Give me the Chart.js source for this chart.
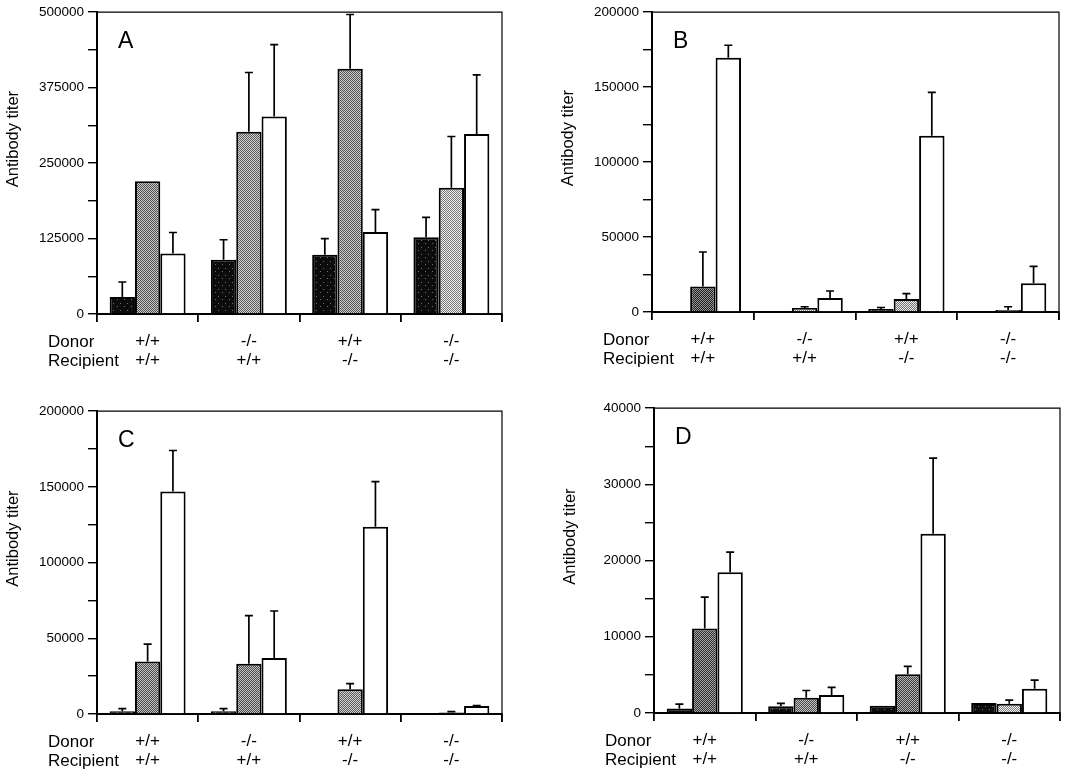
<!DOCTYPE html>
<html>
<head>
<meta charset="utf-8">
<script src="https://cdn.jsdelivr.net/npm/chart.js@4.4.1/dist/chart.umd.min.js"></script>
<style>
  body { margin: 0; background: #fff; }
  #wrap { position: relative; width: 1065px; height: 772px; }
  canvas { position: absolute; }
</style>
</head>
<body>
<div id="wrap">
  <canvas id="panelA" width="532" height="384" style="left:0px;top:0px"></canvas>
  <canvas id="panelB" width="510" height="384" style="left:555px;top:0px"></canvas>
  <canvas id="panelC" width="532" height="373" style="left:0px;top:399px"></canvas>
  <canvas id="panelD" width="508" height="376" style="left:557px;top:396px"></canvas>
</div>
<script>
// groups on the x axis
const donor = ['+/+', '-/-', '+/+', '-/-'];
const recipient = ['+/+', '+/+', '-/-', '-/-'];

// panel A
const aDark = [28000, 90000, 98000, 127000];
const aDarkErr = [25000, 33000, 27000, 33000];
const aGray = [220000, 302000, 406000, 209000];
const aGrayErr = [0, 98000, 90000, 85000];
const aWhite = [100000, 327000, 136000, 298000];
const aWhiteErr = [35000, 119000, 37000, 98000];
const aTicks = [0, 125000, 250000, 375000, 500000];

// panel B
const bDark = [0, 0, 2000, 0];
const bDarkErr = [0, 0, 1000, 0];
const bGray = [17000, 2600, 8700, 1300];
const bGrayErr = [23000, 900, 3600, 2200];
const bWhite = [169600, 9400, 117500, 19200];
const bWhiteErr = [8300, 4600, 29000, 11200];
const bTicks = [0, 50000, 100000, 150000, 200000];

// panel C
const cDark = [1800, 1800, 400, 300];
const cDarkErr = [1800, 1800, 0, 0];
const cGray = [34700, 33200, 16400, 1000];
const cGrayErr = [11400, 31700, 3700, 600];
const cWhite = [146900, 36900, 123700, 5200];
const cWhiteErr = [27100, 31100, 29700, 300];
const cTicks = [0, 50000, 100000, 150000, 200000];

// panel D
const dDark = [600, 900, 950, 1300];
const dDarkErr = [570, 360, 0, 0];
const dGray = [11100, 2000, 5080, 1200];
const dGrayErr = [4100, 950, 1040, 500];
const dWhite = [18460, 2350, 23500, 3170];
const dWhiteErr = [2640, 1000, 9950, 1130];
const dTicks = [0, 10000, 20000, 30000, 40000];

const FONT = "'Liberation Sans', Arial, Helvetica, sans-serif";

// small fill textures so the bars look like the printed stipple
const makeStipple = () => {
  const c = document.createElement('canvas');
  c.width = 7; c.height = 7;
  const g = c.getContext('2d');
  g.fillStyle = '#0c0c0c';
  g.fillRect(0, 0, 7, 7);
  g.fillStyle = '#6e6e6e';
  g.fillRect(1, 2, 1, 1);
  g.fillRect(5, 5, 1, 1);
  return g.createPattern(c, 'repeat');
};

const makeDots = (avg) => {
  const c = document.createElement('canvas');
  c.width = 2; c.height = 2;
  const g = c.getContext('2d');
  const lo = Math.max(avg - 60, 0), hi = Math.min(avg + 60, 255);
  g.fillStyle = `rgb(${hi},${hi},${hi})`;
  g.fillRect(0, 0, 2, 2);
  g.fillStyle = `rgb(${lo},${lo},${lo})`;
  g.fillRect(0, 0, 1, 1);
  g.fillRect(1, 1, 1, 1);
  return g.createPattern(c, 'repeat');
};

const stipple = makeStipple();

const panelDecor = {
  id: 'panelDecor',
  afterDatasetsDraw(chart) {
    const ctx = chart.ctx;
    const y = chart.scales.y;
    ctx.save();
    ctx.strokeStyle = '#000';
    ctx.lineWidth = 1.7;
    chart.data.datasets.forEach((ds, i) => {
      const meta = chart.getDatasetMeta(i);
      meta.data.forEach((bar, j) => {
        const err = ds.errors[j];
        if (!err) return;
        const top = y.getPixelForValue(ds.data[j] + err);
        ctx.beginPath();
        ctx.moveTo(bar.x, bar.y);
        ctx.lineTo(bar.x, top);
        ctx.moveTo(bar.x - 4, top);
        ctx.lineTo(bar.x + 4, top);
        ctx.stroke();
      });
    });
    ctx.restore();
  },
  afterDraw(chart, args, opts) {
    const ctx = chart.ctx;
    const { left, right, top, bottom } = chart.chartArea;
    ctx.save();
    // top and right of the frame
    ctx.strokeStyle = '#000';
    ctx.lineWidth = 1.2;
    ctx.beginPath();
    ctx.moveTo(left, top);
    ctx.lineTo(right, top);
    ctx.lineTo(right, bottom + 8);
    ctx.stroke();

    ctx.fillStyle = '#000';
    ctx.font = `23px ${FONT}`;
    ctx.textAlign = 'left';
    ctx.textBaseline = 'middle';
    ctx.fillText(opts.letter, left + 21, top + 30);

    ctx.font = `17px ${FONT}`;
    const axisY = chart.scales.x.top;
    ctx.fillText('Donor', left - 49, axisY + 28);
    ctx.fillText('Recipient', left - 49, axisY + 47);

    ctx.translate(left - 84, (top + bottom) / 2 - 24);
    ctx.rotate(-Math.PI / 2);
    ctx.textAlign = 'center';
    ctx.font = `16.5px ${FONT}`;
    ctx.fillText('Antibody titer', 0, 0);
    ctx.restore();
  }
};

const makePanel = (id, letter, series, ticks, grays, pad, xHeight) => {
  const major = ticks[1] - ticks[0];
  const datasets = [
    { data: series[0], errors: series[1], backgroundColor: stipple },
    { data: series[2], errors: series[3], backgroundColor: grays.map(makeDots) },
    { data: series[4], errors: series[5], backgroundColor: '#fff' }
  ].map(ds => Object.assign(ds, {
    borderColor: '#000',
    borderWidth: 2,
    borderSkipped: 'start'
  }));

  return new Chart(document.getElementById(id), {
    type: 'bar',
    data: {
      labels: donor.map((d, i) => [d, recipient[i]]),
      datasets
    },
    options: {
      responsive: false,
      animation: false,
      layout: { padding: { top: pad.top, right: pad.right, left: 0, bottom: 0 } },
      categoryPercentage: 0.75,
      barPercentage: 1,
      plugins: {
        legend: { display: false },
        tooltip: { enabled: false },
        panelDecor: { letter }
      },
      scales: {
        x: {
          offset: true,
          grid: { offset: true, drawOnChartArea: false, tickLength: 8, color: '#000', lineWidth: 1.8 },
          border: { color: '#000', width: 2 },
          ticks: { color: '#000', font: { family: FONT, size: 17, lineHeight: 1.12 }, padding: 10, maxRotation: 0 },
          afterFit: (s) => { s.height = xHeight; }
        },
        y: {
          min: ticks[0],
          max: ticks[ticks.length - 1],
          grid: { drawOnChartArea: false, tickLength: 9, color: '#000', lineWidth: 1.4 },
          border: { color: '#000', width: 2 },
          ticks: {
            stepSize: major / 2,
            autoSkip: false,
            color: '#000',
            padding: 4,
            font: { family: FONT, size: 13.5 },
            callback: (v) => (ticks.includes(v) ? String(v) : '')
          },
          afterFit: (s) => { s.width = 97; }
        }
      }
    },
    plugins: [panelDecor]
  });
};

makePanel('panelA', 'A', [aDark, aDarkErr, aGray, aGrayErr, aWhite, aWhiteErr], aTicks,
  [140, 150, 145, 180], { top: 10, right: 30 }, 70);
makePanel('panelB', 'B', [bDark, bDarkErr, bGray, bGrayErr, bWhite, bWhiteErr], bTicks,
  [90, 185, 175, 185], { top: 7, right: 6 }, 72);
makePanel('panelC', 'C', [cDark, cDarkErr, cGray, cGrayErr, cWhite, cWhiteErr], cTicks,
  [135, 135, 150, 150], { top: 10, right: 30 }, 58);
makePanel('panelD', 'D', [dDark, dDarkErr, dGray, dGrayErr, dWhite, dWhiteErr], dTicks,
  [105, 135, 120, 185], { top: 10, right: 5 }, 59);
</script>
</body>
</html>
